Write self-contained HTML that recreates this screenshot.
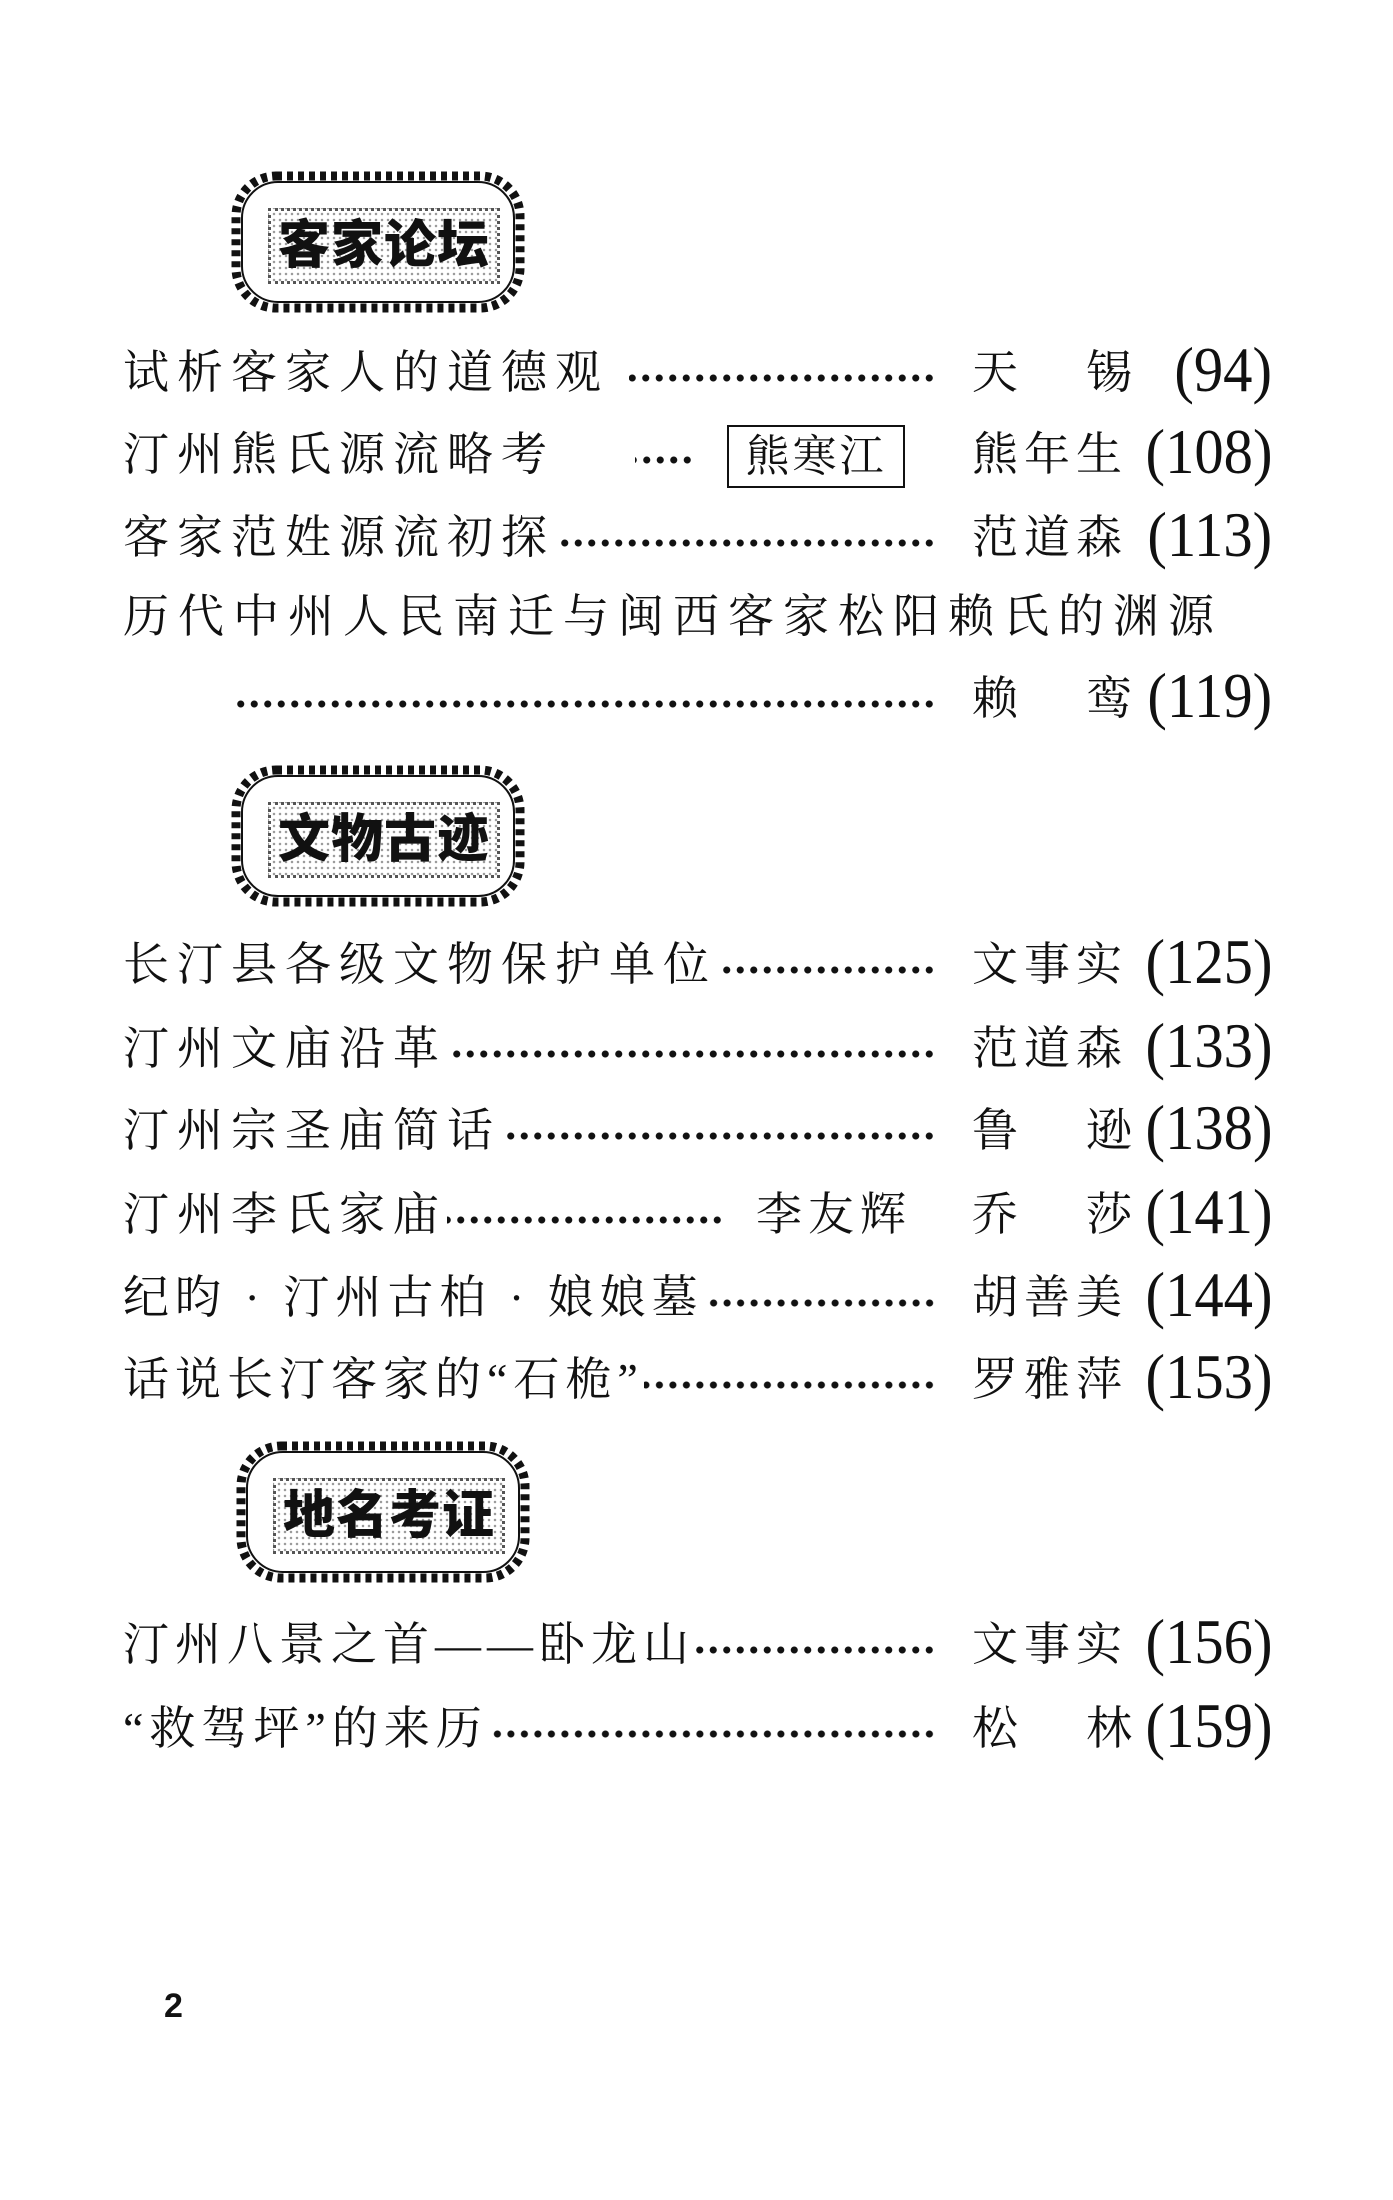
<!DOCTYPE html>
<html><head><meta charset="utf-8"><style>
body{margin:0;background:#fff;}
#p{position:relative;width:1393px;height:2200px;overflow:hidden;background:#fff;font-family:"Liberation Serif","Noto Serif CJK SC","Noto Sans CJK SC",serif;color:#111;}
.r{position:absolute;left:0;width:1393px;height:60px;}
.f{position:absolute;left:123px;top:0;height:60px;display:flex;align-items:flex-start;}
.t{font-size:46px;line-height:60px;letter-spacing:8px;white-space:nowrap;}
.d{flex:1;margin-top:30px;height:10px;background:radial-gradient(circle,#111 3.2px,transparent 3.8px) right 0/13.5px 10px repeat-x;}
.a{position:absolute;left:972px;top:0;font-size:46px;line-height:60px;letter-spacing:6px;white-space:nowrap;}
.n{position:absolute;right:121px;top:-3px;font-size:63px;line-height:60px;white-space:nowrap;transform:scaleX(0.93);transform-origin:right center;font-family:"Liberation Serif",serif;}
.h{position:absolute;width:300px;height:148px;}
.h .ht{position:absolute;left:40px;top:40px;width:226px;height:70px;border:3px dotted #555;background:radial-gradient(circle,#999 1px,transparent 1.5px) 0 0/6px 6px;font-family:"Liberation Sans","Noto Sans CJK SC",sans-serif;font-weight:900;font-size:52px;line-height:70px;text-align:center;letter-spacing:1px;}
</style></head><body><div id="p">

<div class="h" style="left:228px;top:168px;">
<svg width="300" height="148" style="position:absolute;left:0;top:0"><rect x="8" y="8" width="284" height="132" rx="40" fill="none" stroke="#111" stroke-width="9" stroke-dasharray="6 5"/><rect x="14" y="14" width="272" height="120" rx="36" fill="none" stroke="#111" stroke-width="2"/></svg>
<div class="ht">客家论坛</div></div>

<div class="r" style="top:343px"><div class="f" style="width:813px"><div class="t">试析客家人的道德观</div><div class="d" style="margin-left:20px"></div></div><div class="a">天<span style="margin-left:62px">锡</span></div><div class="n">(94)</div></div>
<div class="r" style="top:425px"><div class="f" style="width:571px"><div class="t">汀州熊氏源流略考</div><div class="d" style="margin-left:80px"></div></div>
<div style="position:absolute;left:727px;top:0;width:174px;height:59px;border:2.5px solid #111;font-size:44px;line-height:59px;text-align:center;letter-spacing:3px">熊寒江</div>
<div class="a">熊年生</div><div class="n">(108)</div></div>
<div class="r" style="top:508px"><div class="f" style="width:813px"><div class="t">客家范姓源流初探</div><div class="d"></div></div><div class="a">范道森</div><div class="n">(113)</div></div>
<div class="r" style="top:587px"><div class="f"><div class="t" style="letter-spacing:9px">历代中州人民南迁与闽西客家松阳赖氏的渊源</div></div></div>
<div class="r" style="top:669px"><div class="f" style="left:234px;width:702px"><div class="d"></div></div><div class="a">赖<span style="margin-left:62px">鸾</span></div><div class="n">(119)</div></div>

<div class="h" style="left:228px;top:762px;">
<svg width="300" height="148" style="position:absolute;left:0;top:0"><rect x="8" y="8" width="284" height="132" rx="40" fill="none" stroke="#111" stroke-width="9" stroke-dasharray="6 5"/><rect x="14" y="14" width="272" height="120" rx="36" fill="none" stroke="#111" stroke-width="2"/></svg>
<div class="ht">文物古迹</div></div>

<div class="r" style="top:935px"><div class="f" style="width:813px"><div class="t">长汀县各级文物保护单位</div><div class="d"></div></div><div class="a">文事实</div><div class="n">(125)</div></div>
<div class="r" style="top:1019px"><div class="f" style="width:813px"><div class="t">汀州文庙沿革</div><div class="d"></div></div><div class="a">范道森</div><div class="n">(133)</div></div>
<div class="r" style="top:1101px"><div class="f" style="width:813px"><div class="t">汀州宗圣庙简话</div><div class="d"></div></div><div class="a">鲁<span style="margin-left:62px">逊</span></div><div class="n">(138)</div></div>
<div class="r" style="top:1185px"><div class="f" style="width:601px"><div class="t">汀州李氏家庙</div><div class="d"></div></div><div class="a" style="left:756px">李友辉</div><div class="a">乔<span style="margin-left:62px">莎</span></div><div class="n">(141)</div></div>
<div class="r" style="top:1268px"><div class="f" style="width:813px"><div class="t" style="letter-spacing:6px">纪昀 · 汀州古柏 · 娘娘墓</div><div class="d"></div></div><div class="a">胡善美</div><div class="n">(144)</div></div>
<div class="r" style="top:1350px"><div class="f" style="width:813px"><div class="t" style="letter-spacing:6px">话说长汀客家的“石桅”</div><div class="d"></div></div><div class="a">罗雅萍</div><div class="n">(153)</div></div>

<div class="h" style="left:233px;top:1438px;">
<svg width="300" height="148" style="position:absolute;left:0;top:0"><rect x="8" y="8" width="284" height="132" rx="40" fill="none" stroke="#111" stroke-width="9" stroke-dasharray="6 5"/><rect x="14" y="14" width="272" height="120" rx="36" fill="none" stroke="#111" stroke-width="2"/></svg>
<div class="ht">地名考证</div></div>

<div class="r" style="top:1615px"><div class="f" style="width:813px"><div class="t" style="letter-spacing:6px">汀州八景之首——卧龙山</div><div class="d"></div></div><div class="a">文事实</div><div class="n">(156)</div></div>
<div class="r" style="top:1699px"><div class="f" style="width:813px"><div class="t" style="letter-spacing:6px">“救驾坪”的来历</div><div class="d"></div></div><div class="a">松<span style="margin-left:62px">林</span></div><div class="n">(159)</div></div>

<div style="position:absolute;left:164px;top:1988px;font-family:'Liberation Sans',sans-serif;font-weight:bold;font-size:34px;line-height:36px">2</div>
</div></body></html>
